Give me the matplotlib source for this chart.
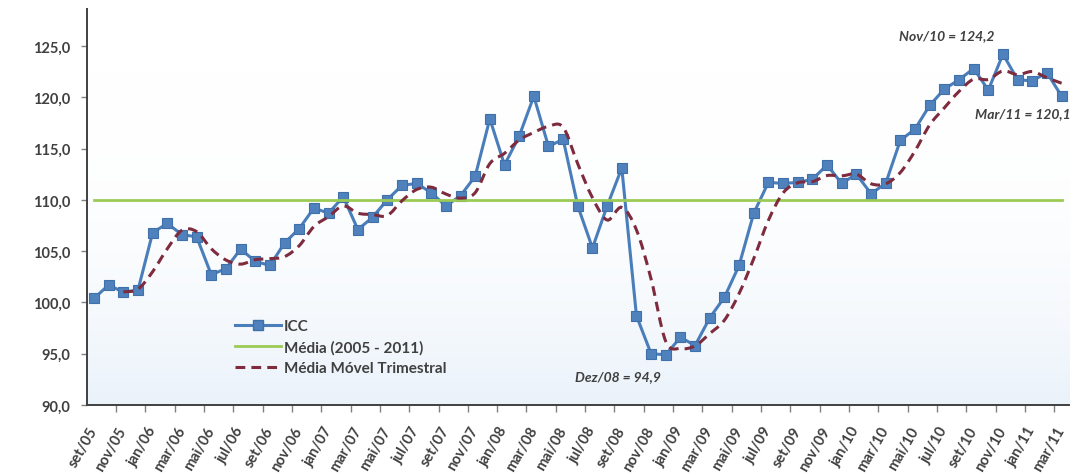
import numpy as np
import pandas as pd
import matplotlib
matplotlib.use("Agg")
import matplotlib.pyplot as plt
from matplotlib.path import Path
from matplotlib.patches import PathPatch
from matplotlib.lines import Line2D
from matplotlib.colors import LinearSegmentedColormap

# ICC monthly index, set/05 .. mar/11
icc = [
    100.4, 101.7, 101.0, 101.2, 106.8, 107.7, 106.6, 106.4,   # set/05 - abr/06
    102.7, 103.3, 105.2, 104.0, 103.6, 105.8, 107.2, 109.2,   # mai/06 - dez/06
    108.7, 110.3, 107.1, 108.3, 110.0, 111.4, 111.6, 110.7,   # jan/07 - ago/07
    109.4, 110.4, 112.3, 117.9, 113.4, 116.2, 120.1, 115.2,   # set/07 - abr/08
    115.9, 109.4, 105.3, 109.4, 113.1, 98.7, 95.0, 94.9,      # mai/08 - dez/08
    96.6, 95.8, 98.5, 100.5, 103.6, 108.7, 111.7, 111.6,      # jan/09 - ago/09
    111.7, 112.0, 113.4, 111.6, 112.5, 110.6, 111.6, 115.8,   # set/09 - abr/10
    116.9, 119.2, 120.8, 121.7, 122.8, 120.7, 124.2, 121.7,   # mai/10 - dez/10
    121.6, 122.4, 120.1,                                      # jan/11 - mar/11
]
media_periodo = 110.0

month_labels = [
    "set/05", "nov/05", "jan/06", "mar/06", "mai/06", "jul/06", "set/06",
    "nov/06", "jan/07", "mar/07", "mai/07", "jul/07", "set/07", "nov/07",
    "jan/08", "mar/08", "mai/08", "jul/08", "set/08", "nov/08", "jan/09",
    "mar/09", "mai/09", "jul/09", "set/09", "nov/09", "jan/10", "mar/10",
    "mai/10", "jul/10", "set/10", "nov/10", "jan/11", "mar/11",
]
y_ticks = [90, 95, 100, 105, 110, 115, 120, 125]
y_tick_labels = ["90,0", "95,0", "100,0", "105,0", "110,0", "115,0", "120,0", "125,0"]

# (month index, text, offset in pixels from the point)
callouts = [
    (39, "Dez/08 = 94,9", (-48, -21)),
    (62, "Nov/10 = 124,2", (-56, 19)),
    (66, "Mar/11 = 120,1", (-39, -17)),
]

BLUE = "#4A7EBB"
GREEN = "#9BCB55"
RED = "#7E2B3E"
TEXT = "#404040"
FONT = ["Lato", "DejaVu Sans"]


def smooth_path(x, y):
    """Bezier path through the points (Catmull-Rom style, like a smoothed spreadsheet line)."""
    pts = np.column_stack([x, y])
    verts = [pts[0]]
    codes = [Path.MOVETO]
    n = len(pts)
    for i in range(n - 1):
        p0 = pts[i - 1] if i > 0 else pts[i]
        p1 = pts[i]
        p2 = pts[i + 1]
        p3 = pts[i + 2] if i + 2 < n else pts[i + 1]
        c1 = p1 + (p2 - p0) / 6.0
        c2 = p2 - (p3 - p1) / 6.0
        verts += [c1, c2, p2]
        codes += [Path.CURVE4] * 3
    return Path(verts, codes)


x = np.arange(len(icc))
movel = pd.Series(icc).rolling(3).mean()
mv_x = x[2:]
mv_y = movel.values[2:]

fig = plt.figure(figsize=(10.78, 4.77), dpi=100)
ax = fig.add_axes([0.0804, 0.1488, 0.9112, 0.8302])

ymin, ymax = 90, 128.6
ax.set_xlim(-0.5, len(icc) - 0.5)
ax.set_ylim(ymin, ymax)

# faint plot-area gradient, white at the top fading to pale blue at the bottom
grad = np.linspace(0, 1, 256).reshape(-1, 1) ** 3
cmap = LinearSegmentedColormap.from_list("bg", ["#FFFFFF", "#EAF2FA"])
ax.imshow(grad, extent=[-0.5, len(icc) - 0.5, ymin, ymax], origin="upper",
          aspect="auto", cmap=cmap, zorder=0)

ax.plot(x, icc, color=BLUE, lw=2.2, marker="s", ms=7, mfc="#4F81BD",
        mec="#3F70AA", mew=0.8, zorder=3)
ax.plot(x, [media_periodo] * len(icc), color=GREEN, lw=2.0, zorder=4)
ax.add_patch(PathPatch(smooth_path(mv_x, mv_y), fill=False, edgecolor=RED,
                       lw=2.2, linestyle=(0, (3.2, 2.0)), zorder=5))

# axes styling
for side in ["top", "right"]:
    ax.spines[side].set_visible(False)
for side in ["left", "bottom"]:
    ax.spines[side].set_color("#404040")
    ax.spines[side].set_linewidth(1.4)

ax.set_yticks(y_ticks)
ax.set_yticklabels(y_tick_labels, fontsize=10.5, fontweight="bold",
                   color=TEXT, family=FONT)
ax.tick_params(axis="y", length=4, width=1, color="#808080", pad=8)

# tick marks between every second month, labels under the even months
ax.set_xticks(np.arange(1.5, len(icc) - 1, 2))
ax.set_xticklabels([])
ax.tick_params(axis="x", which="major", length=5, width=1, color="#808080")
ax.set_xticks(np.arange(0, len(icc), 2), minor=True)
ax.set_xticklabels(month_labels, minor=True, rotation=60, ha="right",
                   va="center", rotation_mode="anchor", fontsize=10.5,
                   fontweight="bold", color=TEXT, family=FONT)
ax.tick_params(axis="x", which="minor", length=0, pad=16)

for idx, label, off in callouts:
    ax.annotate(label, xy=(idx, icc[idx]), xytext=off,
                textcoords="offset pixels", ha="center", va="center",
                fontsize=10, fontstyle="italic", fontweight="bold",
                color=TEXT, family=FONT, annotation_clip=False)

handles = [
    Line2D([], [], color=BLUE, lw=2.2, marker="s", ms=7, mfc="#4F81BD",
           mec="#3F70AA"),
    Line2D([], [], color=GREEN, lw=2.0),
    Line2D([], [], color=RED, lw=2.2, linestyle=(0, (3.2, 2.0))),
]
labels = ["ICC", "Média (2005 - 2011)", "Média Móvel Trimestral"]
leg = ax.legend(handles, labels, loc="center left",
                bbox_to_anchor=(0.151, 0.146), frameon=False,
                handlelength=3.0, handletextpad=0.2, borderpad=0,
                borderaxespad=0, labelspacing=0.45,
                prop={"family": FONT, "size": 11, "weight": "bold"})
for t in leg.get_texts():
    t.set_color(TEXT)

fig.savefig("out.png", dpi=100)
